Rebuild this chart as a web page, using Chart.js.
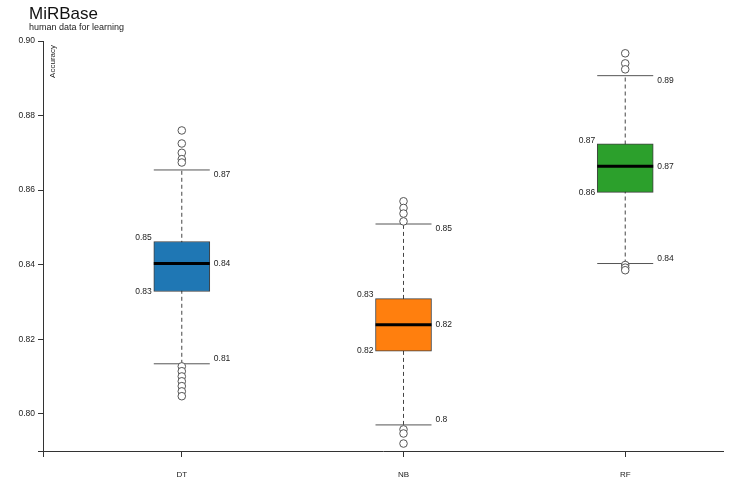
<!DOCTYPE html>
<html>
<head>
<meta charset="utf-8">
<script src="https://cdn.jsdelivr.net/npm/chart.js@4/dist/chart.umd.min.js"></script>
<style>
  html, body { margin: 0; padding: 0; background: #ffffff; }
  #wrap { width: 730px; height: 491px; }
</style>
</head>
<body>
<div id="wrap"><canvas id="c" width="730" height="491"></canvas></div>
<script>
// ---- data ----
const categories = ['DT', 'NB', 'RF'];
const lowerWhisker = [0.8134, 0.7970, 0.8403];
const q1 = [0.8328, 0.8168, 0.8594];
const median = [0.8403, 0.8239, 0.8664];
const q3 = [0.8462, 0.8309, 0.8724];
const upperWhisker = [0.8654, 0.8509, 0.8907];
const outliersDT = [0.8760, 0.8725, 0.8700, 0.8683, 0.8674, 0.8127, 0.8114, 0.8100, 0.8087, 0.8074, 0.8060, 0.8047];
const outliersNB = [0.8570, 0.8552, 0.8537, 0.8516, 0.7958, 0.7947, 0.7920];
const outliersRF = [0.8967, 0.8940, 0.8924, 0.8399, 0.8392, 0.8385];
const yTicks = [0.80, 0.82, 0.84, 0.86, 0.88, 0.90];
const boxColors = ['#1f77b4', '#ff7f0e', '#2ca02c'];
const titleText = 'MiRBase';
const subtitleText = 'human data for learning';
const yAxisTitle = 'Accuracy';

const FONT = '"Liberation Sans", Arial, Helvetica, sans-serif';
const outlierLists = [outliersDT, outliersNB, outliersRF];
const fmt = v => String(Math.round(v * 100) / 100);

const whiskerDatasets = categories.map((c, i) => ({
  type: 'line',
  data: [{ x: i, y: lowerWhisker[i] }, { x: i, y: upperWhisker[i] }],
  borderColor: '#444',
  borderWidth: 1,
  borderDash: [4, 3],
  pointRadius: 0,
  fill: false,
  order: 10
}));

const datasets = [
  ...whiskerDatasets,
  {
    type: 'bar',
    data: categories.map((c, i) => ({ x: i, y: [q1[i], q3[i]] })),
    backgroundColor: boxColors,
    borderColor: 'rgba(30,30,30,0.85)',
    borderWidth: 1,
    borderSkipped: false,
    barThickness: 56,
    order: 5
  },
  {
    type: 'line',
    showLine: false,
    data: categories.flatMap((c, i) => [{ x: i, y: lowerWhisker[i] }, { x: i, y: upperWhisker[i] }]),
    pointStyle: 'line',
    pointRadius: 28,
    pointBorderWidth: 1,
    pointBorderColor: '#555',
    order: 3
  },
  {
    type: 'line',
    showLine: false,
    data: categories.map((c, i) => ({ x: i, y: median[i] })),
    pointStyle: 'line',
    pointRadius: 28,
    pointBorderWidth: 3,
    pointBorderColor: '#000',
    order: 2
  },
  {
    type: 'line',
    showLine: false,
    data: outlierLists.flatMap((list, i) => list.map(v => ({ x: i, y: v }))),
    pointStyle: 'circle',
    pointRadius: 3.8,
    pointBackgroundColor: '#fff',
    pointBorderColor: '#555',
    pointBorderWidth: 1,
    order: 1
  }
];

const labelPlugin = {
  id: 'boxLabels',
  afterDatasetsDraw(chart) {
    const ctx = chart.ctx;
    const xs = chart.scales.x, ys = chart.scales.y;
    const half = 28;
    ctx.save();
    ctx.font = '8.5px ' + FONT;
    ctx.fillStyle = '#222';
    ctx.textBaseline = 'middle';
    categories.forEach((c, i) => {
      const x = xs.getPixelForValue(i);
      ctx.textAlign = 'left';
      ctx.fillText(fmt(upperWhisker[i]), x + half + 4, ys.getPixelForValue(upperWhisker[i]) + 5);
      ctx.fillText(fmt(lowerWhisker[i]), x + half + 4, ys.getPixelForValue(lowerWhisker[i]) - 5);
      ctx.fillText(fmt(median[i]), x + half + 4, ys.getPixelForValue(median[i]));
      ctx.textAlign = 'right';
      ctx.fillText(fmt(q3[i]), x - half - 2, ys.getPixelForValue(q3[i]) - 3.5);
      ctx.fillText(fmt(q1[i]), x - half - 2, ys.getPixelForValue(q1[i]));
    });
    // y axis title
    ctx.save();
    ctx.translate(chart.chartArea.left + 10, chart.chartArea.top + 4);
    ctx.rotate(-Math.PI / 2);
    ctx.textAlign = 'right';
    ctx.textBaseline = 'middle';
    ctx.font = '8px ' + FONT;
    ctx.fillText(yAxisTitle, 0, 0);
    ctx.restore();
    // title and subtitle
    ctx.textAlign = 'left';
    ctx.textBaseline = 'alphabetic';
    ctx.fillStyle = '#111';
    ctx.font = '17px ' + FONT;
    ctx.fillText(titleText, 29, 18.5);
    ctx.font = '9px ' + FONT;
    ctx.fillStyle = '#222';
    ctx.fillText(subtitleText, 29, 30);
    ctx.restore();
  }
};

new Chart(document.getElementById('c'), {
  type: 'bar',
  data: { datasets },
  plugins: [labelPlugin],
  options: {
    responsive: false,
    animation: false,
    events: [],
    layout: { autoPadding: false, padding: { top: 41, right: 7, left: 0, bottom: 0 } },
    plugins: {
      legend: { display: false },
      tooltip: { enabled: false },
      title: { display: false }
    },
    scales: {
      x: {
        type: 'linear',
        offset: false,
        min: -0.626,
        max: 2.441,
        grid: { offset: false, drawOnChartArea: false, drawTicks: true, tickLength: 6, color: '#333' },
        border: { color: '#333', width: 1 },
        afterBuildTicks: s => { s.ticks = [s.min, 0, 1, 2].map(v => ({ value: v })); },
        afterFit: s => { s.height = 40; s.paddingLeft = 0; s.paddingRight = 0; },
        ticks: {
          callback: v => (categories[v] !== undefined ? categories[v] : ''),
          padding: 13,
          autoSkip: false,
          maxRotation: 0,
          color: '#222',
          font: { size: 8, family: FONT }
        }
      },
      y: {
        type: 'linear',
        min: 0.79,
        max: 0.90,
        grid: { drawOnChartArea: false, drawTicks: true, tickLength: 5, color: '#333' },
        border: { color: '#333', width: 1 },
        afterBuildTicks: s => { s.ticks = [0.79, ...yTicks].map(v => ({ value: v })); },
        afterFit: s => { s.width = 43; },
        ticks: {
          callback: v => (yTicks.includes(v) ? v.toFixed(2) : ''),
          padding: 3,
          color: '#222',
          font: { size: 8.5, family: FONT }
        }
      }
    }
  }
});
</script>
</body>
</html>
